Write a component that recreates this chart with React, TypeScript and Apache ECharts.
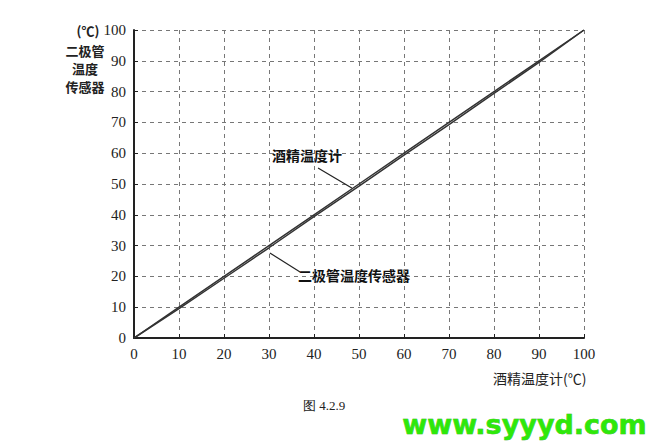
import React, { useEffect, useRef } from "react";
import * as echarts from "echarts";

const xValues = [0, 10, 20, 30, 40, 50, 60, 70, 80, 90, 100];
const thermometer = [0, 10, 20, 30, 40, 50, 60, 70, 80, 90, 100];
const diode = [0, 9.5, 19.4, 29.3, 39.4, 49.3, 59.4, 69.3, 79.4, 89.5, 100];
const thermoLeader = [[40.9, 55.2], [48.4, 48.7]];
const diodeLeader = [[30.2, 27.6], [36.9, 21.4]];
const yTitleLines = ["(℃)", "二极管", "温度", "传感器"];

const serif = "'Liberation Serif', 'DejaVu Serif', serif";
const cjk = "'Noto Sans CJK SC', sans-serif";

export default function App() {
  const ref = useRef<HTMLDivElement>(null);
  useEffect(() => {
    if (!ref.current) return;
    const chart = echarts.init(ref.current, null, { renderer: "svg" });
    const lineColor = "#333";
    const yTitleY = [30, 50, 68, 86];
    chart.setOption({
      animation: false,
      backgroundColor: "#fff",
      grid: { left: 134, right: 81, top: 30, bottom: 109 },
      xAxis: {
        type: "value",
        min: 0,
        max: 100,
        interval: 10,
        axisLine: { lineStyle: { color: "#222", width: 2 } },
        axisTick: { inside: true, length: 4, lineStyle: { color: "#222" } },
        axisLabel: { color: "#222", fontSize: 15, fontFamily: serif, margin: 8 },
        splitLine: { show: true, lineStyle: { type: [4, 4], color: "#777", width: 1 } },
      },
      yAxis: {
        type: "value",
        min: 0,
        max: 100,
        interval: 10,
        axisLine: { show: true, lineStyle: { color: "#222", width: 2 } },
        axisTick: { show: true, inside: true, length: 4, lineStyle: { color: "#222" } },
        axisLabel: { color: "#222", fontSize: 15, fontFamily: serif, margin: 8 },
        splitLine: { show: true, lineStyle: { type: [4, 4], color: "#777", width: 1 } },
      },
      series: [
        {
          name: "酒精温度计",
          type: "line",
          data: xValues.map((x, i) => [x, thermometer[i]]),
          symbol: "none",
          lineStyle: { color: lineColor, width: 1.5 },
          markLine: {
            silent: true,
            symbol: "none",
            label: { show: false },
            lineStyle: { color: "#222", width: 1.2, type: "solid" },
            data: [[{ coord: thermoLeader[0] }, { coord: thermoLeader[1] }]],
          },
        },
        {
          name: "二极管温度传感器",
          type: "line",
          data: xValues.map((x, i) => [x, diode[i]]),
          symbol: "none",
          lineStyle: { color: lineColor, width: 1.5 },
          markLine: {
            silent: true,
            symbol: "none",
            label: { show: false },
            lineStyle: { color: "#222", width: 1.2, type: "solid" },
            data: [[{ coord: diodeLeader[0] }, { coord: diodeLeader[1] }]],
          },
        },
      ],
      graphic: [
        ...yTitleLines.map((t, i) => ({
          type: "text",
          x: i === 0 ? 88 : 85,
          y: yTitleY[i],
          style: {
            text: t,
            fontSize: 13,
            fontWeight: "bold",
            fontFamily: cjk,
            fill: "#222",
            align: "center",
            verticalAlign: "middle",
          },
        })),
        { type: "text", left: 272, top: 148, style: { text: "酒精温度计", fontSize: 14, fontWeight: "bold", fontFamily: cjk, fill: "#111" } },
        { type: "text", left: 298, top: 268, style: { text: "二极管温度传感器", fontSize: 14, fontWeight: "bold", fontFamily: cjk, fill: "#111" } },
        { type: "text", left: 493, top: 371, style: { text: "酒精温度计(℃)", fontSize: 14, fontFamily: cjk, fill: "#222" } },
        { type: "text", left: 303, top: 399, style: { text: "图 4.2.9", fontSize: 13, fontFamily: serif, fill: "#222" } },
        {
          type: "text",
          left: 402,
          top: 411,
          style: {
            text: "www.syyyd.com",
            fontSize: 27,
            fontWeight: "bold",
            fontFamily: "'DejaVu Sans', sans-serif",
            fill: "#2ee80a",
            stroke: "#1a9c00",
            lineWidth: 0.5,
          },
        },
      ],
    });
    return () => chart.dispose();
  }, []);
  return <div ref={ref} style={{ width: 665, height: 447, position: "absolute", left: 0, top: 0 }} />;
}
